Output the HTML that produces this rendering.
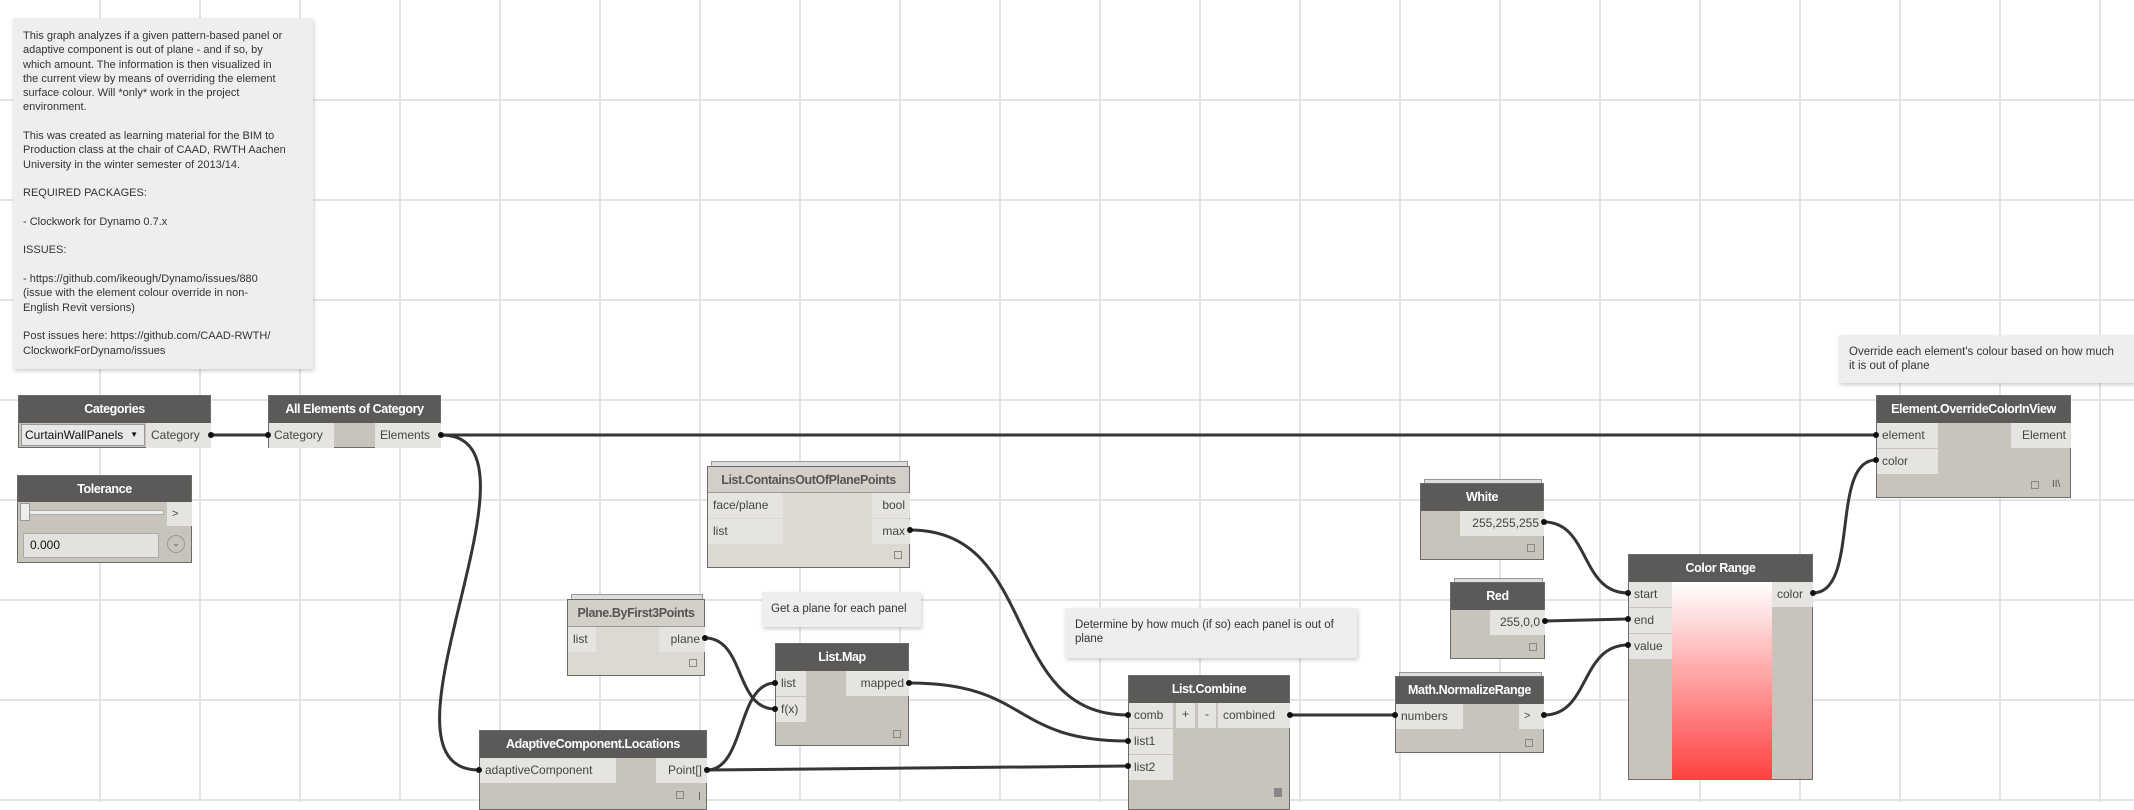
<!DOCTYPE html>
<html><head><meta charset="utf-8">
<style>
html,body{margin:0;padding:0;}
body{width:2134px;height:802px;position:relative;overflow:hidden;background:#fff;font-family:"Liberation Sans",sans-serif;}
.abs{position:absolute;}
.note{position:absolute;background:#eeeeee;box-shadow:1px 2px 4px rgba(0,0,0,0.2);color:#333;font-family:"Liberation Sans",sans-serif;font-size:11px;line-height:14.3px;white-space:nowrap;}
.node{position:absolute;background:#c8c4bc;border:1px solid #6d6b68;box-sizing:border-box;}
.hdr{position:absolute;left:0;right:0;top:0;background:#5c5a58;color:#fff;font-size:12.5px;letter-spacing:-0.4px;font-weight:bold;text-align:center;box-sizing:border-box;white-space:nowrap;overflow:hidden;}
.pv .hdr{background:#d3cfc8;color:#555;}
.pv{background:#dcd9d3;}
.port{position:absolute;background:#e6e4e0;color:#444;font-size:12px;box-sizing:border-box;padding:0 5px;white-space:nowrap;}
.sq{position:absolute;width:8px;height:8px;border:1px solid #888;box-sizing:border-box;}
</style></head><body>
<svg class="abs" style="left:0;top:0" width="2134" height="802">
<g stroke="#e4e4e4" stroke-width="2">
<line x1="100" y1="0" x2="100" y2="802"/><line x1="200" y1="0" x2="200" y2="802"/><line x1="300" y1="0" x2="300" y2="802"/><line x1="400" y1="0" x2="400" y2="802"/><line x1="500" y1="0" x2="500" y2="802"/><line x1="600" y1="0" x2="600" y2="802"/><line x1="700" y1="0" x2="700" y2="802"/><line x1="800" y1="0" x2="800" y2="802"/><line x1="900" y1="0" x2="900" y2="802"/><line x1="1000" y1="0" x2="1000" y2="802"/><line x1="1100" y1="0" x2="1100" y2="802"/><line x1="1200" y1="0" x2="1200" y2="802"/><line x1="1300" y1="0" x2="1300" y2="802"/><line x1="1400" y1="0" x2="1400" y2="802"/><line x1="1500" y1="0" x2="1500" y2="802"/><line x1="1600" y1="0" x2="1600" y2="802"/><line x1="1700" y1="0" x2="1700" y2="802"/><line x1="1800" y1="0" x2="1800" y2="802"/><line x1="1900" y1="0" x2="1900" y2="802"/><line x1="2000" y1="0" x2="2000" y2="802"/><line x1="2100" y1="0" x2="2100" y2="802"/>
<line x1="0" y1="100" x2="2134" y2="100"/><line x1="0" y1="200" x2="2134" y2="200"/><line x1="0" y1="300" x2="2134" y2="300"/><line x1="0" y1="400" x2="2134" y2="400"/><line x1="0" y1="500" x2="2134" y2="500"/><line x1="0" y1="600" x2="2134" y2="600"/><line x1="0" y1="700" x2="2134" y2="700"/><line x1="0" y1="800" x2="2134" y2="800"/>
</g>
</svg>

<div class="note" style="left:13px;top:18px;width:300px;height:351px;padding:11px 10px;box-sizing:border-box;">This graph analyzes if a given pattern-based panel or<br>adaptive component is out of plane - and if so, by<br>which amount. The information is then visualized in<br>the current view by means of overriding the element<br>surface colour. Will *only* work in the project<br>environment.<br><br>This was created as learning material for the BIM to<br>Production class at the chair of CAAD, RWTH Aachen<br>University in the winter semester of 2013/14.<br><br>REQUIRED PACKAGES:<br><br>- Clockwork for Dynamo 0.7.x<br><br>ISSUES:<br><br>- https://github.com/ikeough/Dynamo/issues/880<br>(issue with the element colour override in non-<br>English Revit versions)<br><br>Post issues here: https://github.com/CAAD-RWTH/<br>ClockworkForDynamo/issues</div>

<div class="note" style="left:762px;top:592px;width:159px;height:35px;font-size:11.5px;padding:10px 9px;box-sizing:border-box;">Get a plane for each panel</div>
<div class="note" style="left:1065px;top:608px;width:292px;height:50px;font-size:11.5px;padding:10px 10px;box-sizing:border-box;">Determine by how much (if so) each panel is out of<br>plane</div>
<div class="note" style="left:1839px;top:335px;width:300px;height:48px;font-size:11.5px;padding:10px 10px;box-sizing:border-box;">Override each element's colour based on how much<br>it is out of plane</div>

<div class="node" style="left:18px;top:395px;width:193px;height:53px;">
<div class="hdr" style="height:27px;line-height:27px;">Categories</div>
<div class="abs" style="left:2px;top:28px;width:124px;height:22px;background:#e8e8e8;border:1px solid #999;box-sizing:border-box;font-size:12px;line-height:20px;padding-left:3px;color:#111;">CurtainWallPanels <span style="font-size:8px;position:absolute;right:6px;">▼</span></div>
<div class="port" style="left:127px;top:27px;width:65px;height:25px;line-height:25px;">Category</div>
</div>
<div class="node" style="left:268px;top:395px;width:173px;height:53px;">
<div class="hdr" style="height:27px;line-height:27px;">All Elements of Category</div>
<div class="port" style="left:0;top:27px;width:65px;height:25px;line-height:25px;">Category</div>
<div class="port" style="left:106px;top:27px;width:66px;height:25px;line-height:25px;">Elements</div>
</div>
<div class="node" style="left:17px;top:475px;width:175px;height:88px;">
<div class="hdr" style="height:26px;line-height:26px;">Tolerance</div>
<div class="abs" style="left:4px;top:34px;width:140px;height:3px;background:#eee;border:1px solid #aaa;"></div>
<div class="abs" style="left:2px;top:27px;width:8px;height:16px;background:#eee;border:1px solid #999;"></div>
<div class="port" style="left:149px;top:26px;width:25px;height:24px;line-height:24px;font-size:11px;">&gt;</div>
<div class="abs" style="left:5px;top:57px;width:136px;height:25px;background:#e4e2de;border:1px solid #aaa;box-sizing:border-box;font-size:12px;line-height:23px;padding-left:6px;color:#111;">0.000</div>
<div class="abs" style="left:149px;top:59px;width:16px;height:16px;border:1px solid #999;border-radius:50%;font-size:9px;text-align:center;line-height:15px;color:#555;">⌄</div>
</div>
<div class="abs" style="left:571px;top:594px;width:130px;height:5px;border-top:1px solid #999;border-left:1px solid #999;border-right:1px solid #999;background:#ddd;"></div>
<div class="node pv" style="left:567px;top:599px;width:138px;height:77px;">
<div class="hdr" style="height:27px;line-height:27px;border-bottom:1px solid #999;">Plane.ByFirst3Points</div>
<div class="port" style="left:0;top:27px;width:28px;height:25px;line-height:25px;">list</div>
<div class="port" style="left:91px;top:27px;width:46px;height:25px;line-height:25px;text-align:right;">plane</div>
<div class="sq" style="left:121px;top:59px;"></div>
</div>
<div class="abs" style="left:711px;top:461px;width:195px;height:5px;border-top:1px solid #999;border-left:1px solid #999;border-right:1px solid #999;background:#ddd;"></div>
<div class="node pv" style="left:707px;top:466px;width:203px;height:102px;">
<div class="hdr" style="height:26px;line-height:26px;border-bottom:1px solid #999;">List.ContainsOutOfPlanePoints</div>
<div class="port" style="left:0;top:26px;width:75px;height:25px;line-height:25px;">face/plane</div>
<div class="port" style="left:0;top:52px;width:75px;height:25px;line-height:25px;">list</div>
<div class="port" style="left:164px;top:26px;width:38px;height:25px;line-height:25px;text-align:right;">bool</div>
<div class="port" style="left:164px;top:52px;width:38px;height:25px;line-height:25px;text-align:right;">max</div>
<div class="sq" style="left:186px;top:84px;"></div>
</div>
<div class="node" style="left:775px;top:643px;width:134px;height:103px;">
<div class="hdr" style="height:27px;line-height:27px;">List.Map</div>
<div class="port" style="left:0;top:27px;width:30px;height:25px;line-height:25px;">list</div>
<div class="port" style="left:0;top:53px;width:30px;height:25px;line-height:25px;">f(x)</div>
<div class="port" style="left:70px;top:27px;width:63px;height:25px;line-height:25px;text-align:right;">mapped</div>
<div class="sq" style="left:117px;top:86px;"></div>
</div>
<div class="node" style="left:479px;top:730px;width:228px;height:80px;">
<div class="hdr" style="height:27px;line-height:27px;">AdaptiveComponent.Locations</div>
<div class="port" style="left:0;top:27px;width:136px;height:25px;line-height:25px;">adaptiveComponent</div>
<div class="port" style="left:176px;top:27px;width:51px;height:25px;line-height:25px;text-align:right;">Point[]</div>
<div class="sq" style="left:196px;top:60px;"></div>
<div class="abs" style="left:219px;top:61px;width:1px;height:8px;background:#666;"></div>
</div>
<div class="node" style="left:1128px;top:675px;width:162px;height:135px;">
<div class="hdr" style="height:27px;line-height:27px;">List.Combine</div>
<div class="port" style="left:0;top:27px;width:44px;height:25px;line-height:25px;">comb</div>
<div class="port" style="left:47px;top:27px;width:19px;height:25px;line-height:23px;text-align:center;padding:0;">+</div>
<div class="port" style="left:69px;top:27px;width:18px;height:25px;line-height:23px;text-align:center;padding:0;">-</div>
<div class="port" style="left:89px;top:27px;width:72px;height:25px;line-height:25px;">combined</div>
<div class="port" style="left:0;top:53px;width:44px;height:25px;line-height:25px;">list1</div>
<div class="port" style="left:0;top:79px;width:44px;height:25px;line-height:25px;">list2</div>
<div class="abs" style="left:145px;top:112px;width:8px;height:9px;background:#888;"></div>
</div>
<div class="abs" style="left:1399px;top:672px;width:141px;height:4px;border-top:1px solid #999;border-left:1px solid #999;border-right:1px solid #999;background:#ddd;"></div>
<div class="node" style="left:1395px;top:676px;width:149px;height:77px;">
<div class="hdr" style="height:27px;line-height:27px;">Math.NormalizeRange</div>
<div class="port" style="left:0;top:27px;width:67px;height:25px;line-height:25px;">numbers</div>
<div class="port" style="left:123px;top:27px;width:25px;height:25px;line-height:25px;font-size:11px;">&gt;</div>
<div class="sq" style="left:129px;top:62px;"></div>
</div>
<div class="abs" style="left:1424px;top:479px;width:116px;height:4px;border-top:1px solid #999;border-left:1px solid #999;border-right:1px solid #999;background:#ddd;"></div>
<div class="node" style="left:1420px;top:483px;width:124px;height:77px;">
<div class="hdr" style="height:27px;line-height:27px;">White</div>
<div class="port" style="left:39px;top:27px;width:84px;height:25px;line-height:25px;text-align:right;">255,255,255</div>
<div class="sq" style="left:106px;top:60px;"></div>
</div>
<div class="abs" style="left:1454px;top:578px;width:87px;height:4px;border-top:1px solid #999;border-left:1px solid #999;border-right:1px solid #999;background:#ddd;"></div>
<div class="node" style="left:1450px;top:582px;width:95px;height:77px;">
<div class="hdr" style="height:27px;line-height:27px;">Red</div>
<div class="port" style="left:39px;top:27px;width:55px;height:25px;line-height:25px;text-align:right;">255,0,0</div>
<div class="sq" style="left:78px;top:60px;"></div>
</div>
<div class="node" style="left:1628px;top:554px;width:185px;height:226px;">
<div class="hdr" style="height:27px;line-height:27px;">Color Range</div>
<div class="port" style="left:0;top:27px;width:43px;height:25px;line-height:25px;">start</div>
<div class="port" style="left:0;top:53px;width:43px;height:25px;line-height:25px;">end</div>
<div class="port" style="left:0;top:79px;width:43px;height:25px;line-height:25px;">value</div>
<div class="abs" style="left:43px;top:27px;width:100px;height:198px;background:linear-gradient(#ffffff,#ff4040);"></div>
<div class="port" style="left:143px;top:27px;width:41px;height:25px;line-height:25px;">color</div>
</div>
<div class="node" style="left:1876px;top:395px;width:195px;height:103px;">
<div class="hdr" style="height:27px;line-height:27px;">Element.OverrideColorInView</div>
<div class="port" style="left:0;top:27px;width:61px;height:25px;line-height:25px;">element</div>
<div class="port" style="left:0;top:53px;width:61px;height:25px;line-height:25px;">color</div>
<div class="port" style="left:134px;top:27px;width:60px;height:25px;line-height:25px;text-align:right;">Element</div>
<div class="sq" style="left:154px;top:85px;"></div>
<div class="abs" style="left:175px;top:83px;font-size:10px;color:#555;">II\</div>
</div>

<svg class="abs" style="left:0;top:0" width="2134" height="802">
<g stroke="#353535" stroke-width="3" fill="none">
<path d="M211,435 L268,435"/>
<path d="M441,435 L1876,435"/>
<path d="M441,435 C560,435 360,770 479,770"/>
<path d="M707,770 C745,770 737,683 775,683"/>
<path d="M707,770 L1128,766"/>
<path d="M705,638 C745,638 735,709 775,709"/>
<path d="M910,530 C1040,530 1000,715 1128,715"/>
<path d="M909,683 C1030,683 1010,741 1128,741"/>
<path d="M1290,715 L1395,715"/>
<path d="M1544,522 C1590,522 1580,593 1628,593"/>
<path d="M1545,621 L1628,619"/>
<path d="M1544,715 C1590,715 1580,645 1628,645"/>
<path d="M1813,593 C1860,593 1830,460 1876,460"/>
</g>
<g fill="#111">
<circle cx="211" cy="435" r="3"/><circle cx="268" cy="435" r="3"/><circle cx="441" cy="435" r="3"/><circle cx="479" cy="770" r="3"/><circle cx="707" cy="770" r="3"/><circle cx="775" cy="683" r="3"/><circle cx="775" cy="709" r="3"/><circle cx="705" cy="638" r="3"/><circle cx="910" cy="530" r="3"/><circle cx="909" cy="683" r="3"/><circle cx="1128" cy="715" r="3"/><circle cx="1128" cy="741" r="3"/><circle cx="1128" cy="766" r="3"/><circle cx="1290" cy="715" r="3"/><circle cx="1395" cy="715" r="3"/><circle cx="1544" cy="522" r="3"/><circle cx="1545" cy="621" r="3"/><circle cx="1544" cy="715" r="3"/><circle cx="1628" cy="593" r="3"/><circle cx="1628" cy="619" r="3"/><circle cx="1628" cy="645" r="3"/><circle cx="1813" cy="593" r="3"/><circle cx="1876" cy="435" r="3"/><circle cx="1876" cy="460" r="3"/>
</g>
</svg>
</body></html>
